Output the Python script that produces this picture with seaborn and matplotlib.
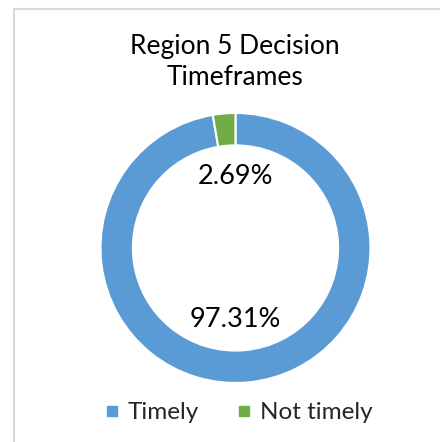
import matplotlib
matplotlib.use("Agg")
import matplotlib.pyplot as plt
from matplotlib.lines import Line2D
import seaborn as sns

# data
categories = ["Timely", "Not timely"]
shares = [97.31, 2.69]
colors = ["#5B9BD5", "#70AD47"]
title = "Region 5 Decision\nTimeframes"

sns.set_theme(style="white")
plt.rcParams["font.family"] = ["Lato", "DejaVu Sans"]

fig = plt.figure(figsize=(4.4, 4.42), dpi=100)
ax = fig.add_axes([0.2284, 0.1335, 0.6136, 0.6109])

wedges, texts, autotexts = ax.pie(
    shares,
    colors=colors,
    startangle=90,
    counterclock=False,
    radius=1.0,
    autopct=lambda p: f"{p:.2f}%",
    pctdistance=0.53,
    wedgeprops=dict(width=0.24, edgecolor="white", linewidth=1.5),
    textprops=dict(fontsize=19.5, color="#000000"),
)
# Excel centers the labels horizontally in the hole
for t in autotexts:
    t.set_x(0)

ax.set_xlim(-1, 1)
ax.set_ylim(-1, 1)
ax.set_aspect("equal")

fig.text(0.534, 0.859, title, ha="center", va="center", fontsize=19,
         color="#000000", linespacing=1.3)

handles = [
    Line2D([], [], marker="s", linestyle="none", markersize=7.5,
           markerfacecolor=c, markeredgecolor=c)
    for c in colors
]
fig.legend(handles, categories, loc="center", bbox_to_anchor=(0.541, 0.066),
           ncol=2, frameon=False, fontsize=17.5, handletextpad=0.3,
           columnspacing=1.5, handlelength=0.7)

# light chart-area border (only top and left visible in the crop)
fig.add_artist(Line2D([0.032, 0.032], [0.0, 0.979], color="#d9d9d9", lw=1.5))
fig.add_artist(Line2D([0.032, 1.0], [0.979, 0.979], color="#d9d9d9", lw=1.5))

fig.savefig("out.png", dpi=100, facecolor="white")
